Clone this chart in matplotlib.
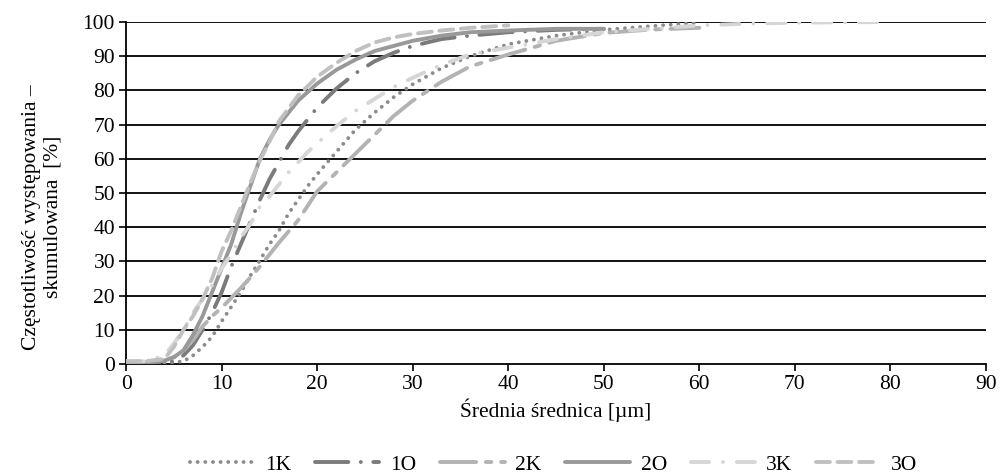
import matplotlib
matplotlib.use("Agg")
import matplotlib.pyplot as plt

plt.rcParams['font.family'] = ['Liberation Serif', 'DejaVu Serif']
plt.rcParams['lines.scale_dashes'] = False

# cumulative frequency [%] vs mean diameter [um]
x_1k = [0, 2, 4, 5, 6, 7, 8, 9, 10, 11, 12, 13, 14, 15, 16, 17, 18, 19, 20, 22, 24, 26, 28, 30, 33, 36, 40, 45, 50, 55, 60]
y_1k = [0.3, 0.3, 0.3, 0.5, 0.8, 2.5, 5, 8, 12.5, 16.7, 21, 25.8, 30.3, 35, 39, 44, 48, 52, 55.5, 62, 68.5, 73.5, 78, 81.8, 86.5, 90, 93.5, 96, 97.7, 98.8, 99.8]

x_1o = [0, 2, 4, 5, 6, 7, 8, 9, 10, 11, 12, 13, 14, 15, 16, 17, 18, 20, 22, 24, 26, 28, 30, 33, 36, 40, 45, 50]
y_1o = [0.3, 0.3, 0.5, 1, 2.5, 5.5, 10, 15, 21, 28.5, 35, 41.5, 48, 54, 59, 64, 68, 75, 80.5, 85, 88.5, 91, 93, 95, 96, 97, 97.7, 98]

x_2k = [0, 2, 4, 5, 6, 7, 8, 9, 10, 11, 12, 13, 14, 15, 16, 18, 20, 22, 24, 26, 28, 30, 33, 36, 40, 45, 50, 55, 60]
y_2k = [0.5, 0.5, 1, 2, 3.8, 7, 11, 14, 16.5, 19.3, 22.2, 25.3, 28.5, 32, 35.5, 42, 50.5, 56, 61.5, 67, 72.5, 77, 82.5, 87, 90.5, 94.5, 96.8, 97.8, 98.3]

x_2o = [0, 2, 4, 5, 6, 7, 8, 9, 10, 11, 12, 13, 14, 15, 16, 18, 20, 22, 24, 26, 28, 30, 33, 36, 40, 45, 50]
y_2o = [0.5, 0.5, 1, 2, 4, 8.5, 14, 21, 28, 35, 44, 52, 60, 65.5, 70, 77, 82, 86, 89, 91.5, 93, 94.5, 96, 97, 97.5, 98, 98]

x_3k = [0, 2, 4, 5, 6, 7, 8, 9, 10, 11, 12, 13, 14, 15, 16, 17, 18, 19, 20, 22, 24, 26, 28, 30, 33, 36, 40, 45, 50, 55, 60, 65, 70, 80]
y_3k = [0.8, 0.8, 2.5, 6, 10, 15, 19, 23, 28, 32, 37, 41, 46, 49, 52.5, 56, 59, 62, 64.5, 69.5, 74, 77.5, 81, 83.7, 87.5, 90.5, 92.5, 95, 97, 98, 99, 99.5, 99.8, 100]

x_3o = [0, 2, 4, 5, 6, 7, 8, 9, 10, 11, 12, 13, 14, 15, 16, 18, 20, 22, 24, 26, 28, 30, 33, 36, 40]
y_3o = [0.8, 0.8, 1.5, 5, 10, 14, 19, 25, 33, 39, 46, 53, 59.5, 65, 71, 78.5, 84, 88, 91.5, 94, 95.5, 96.5, 97.5, 98.3, 99]

x_ticks = list(range(0, 91, 10))
y_ticks = list(range(0, 101, 10))

series = [
    (x_1k, y_1k, '1K', '#8c8c8c', (0, (0.01, 5.5))),
    (x_1o, y_1o, '1O', '#7b7b7b', (0, (24, 9, 0.01, 9))),
    (x_2k, y_2k, '2K', '#b3b3b3', (0, (26, 7, 4, 7))),
    (x_2o, y_2o, '2O', '#999999', '-'),
    (x_3k, y_3k, '3K', '#d6d6d6', (0, (13, 10, 0.01, 10))),
    (x_3o, y_3o, '3O', '#c0c0c0', (0, (10, 5.5))),
]

fs = 15.5

fig = plt.figure(figsize=(10.01, 4.73), dpi=100)
ax = fig.add_axes([0.126, 0.2304, 0.859, 0.7231])

for y in y_ticks[1:]:
    ax.axhline(y, color='black', lw=1.3, zorder=1)

for xs, ys, name, color, ls in series:
    ax.plot(xs, ys, color=color, lw=2.8, linestyle=ls, label=name,
            dash_capstyle='round', solid_capstyle='round', zorder=3)

ax.set_xlim(0, 90)
ax.set_ylim(0, 100)
ax.set_xticks(x_ticks)
ax.set_yticks(y_ticks)
ax.tick_params(labelsize=fs, length=5, width=1.2, color='black', direction='out', pad=3)
for side in ['top', 'right']:
    ax.spines[side].set_visible(False)
for side in ['left', 'bottom']:
    ax.spines[side].set_linewidth(1.3)
    ax.spines[side].set_color('black')

ax.set_xlabel('Średnia średnica [µm]', fontsize=fs, labelpad=3)
ax.set_ylabel('Częstotliwość występowania –\nskumulowana  [%]', fontsize=fs)
ax.yaxis.set_label_coords(-0.074, 0.43)

fig.legend(loc='lower center', bbox_to_anchor=(0.553, -0.045), ncol=6, frameon=False,
           fontsize=fs, handlelength=3.0, columnspacing=1.1, handletextpad=0.5)

fig.savefig('out.png', dpi=100)
